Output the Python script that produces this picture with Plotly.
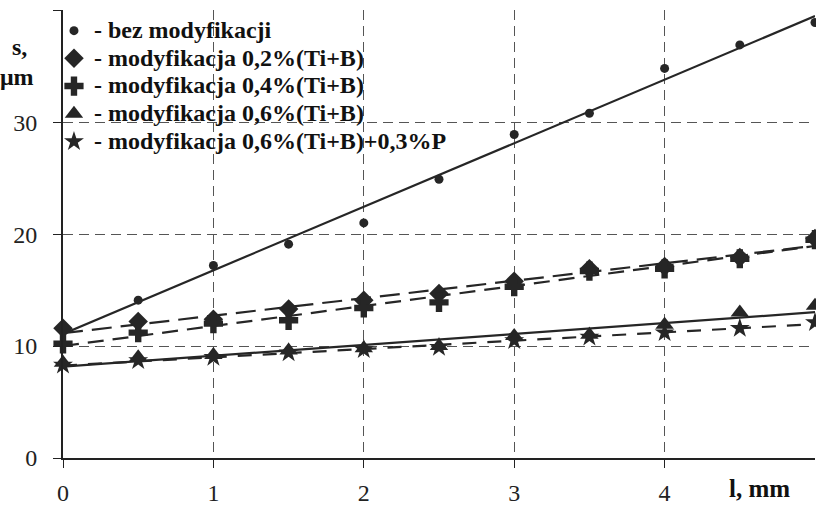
import numpy as np
import plotly.graph_objects as go

l_mm = [0, 0.5, 1, 1.5, 2, 2.5, 3, 3.5, 4, 4.5, 5]
s_bez = [11.5, 14.1, 17.2, 19.1, 21.0, 24.9, 28.9, 30.8, 34.8, 36.9, 38.9]
s_02 = [11.6, 12.2, 12.4, 13.3, 14.1, 14.7, 15.8, 16.9, 17.1, 17.9, 19.6]
s_04 = [10.2, 11.2, 12.0, 12.3, 13.4, 13.9, 15.3, 16.7, 16.9, 17.8, 19.5]
s_06 = [8.5, 9.0, 9.2, 9.6, 9.8, 10.0, 10.9, 11.0, 11.9, 13.0, 13.6]
s_06p = [8.3, 8.7, 9.0, 9.4, 9.7, 9.9, 10.5, 10.8, 11.2, 11.6, 12.1]

names = ["- bez modyfikacji", "- modyfikacja 0,2%(Ti+B)", "- modyfikacja 0,4%(Ti+B)",
         "- modyfikacja 0,6%(Ti+B)", "- modyfikacja 0,6%(Ti+B)+0,3%P"]
x_ticks = [0, 1, 2, 3, 4]
y_ticks = [0, 10, 20, 30, 40]
y_ticktext = ["0", "10", "20", "30", ""]

series = [s_bez, s_02, s_04, s_06, s_06p]
symbols = ["circle", "diamond", "cross", "triangle-up", "star"]
sizes = [9, 15, 16, 16, 15]
dashes = ["solid", "20px,9px", "16px,9px", "solid", "14px,11px"]
ink = "#262626"
serif = "Liberation Serif"

fig = go.Figure()
for ys, name, sym, sz, dash in zip(series, names, symbols, sizes, dashes):
    k, b = np.polyfit(l_mm, ys, 1)
    xf = np.array([l_mm[0], l_mm[-1]])
    fig.add_trace(go.Scatter(x=xf, y=k * xf + b, mode="lines", showlegend=False,
                             line=dict(color=ink, width=2.2, dash=dash), cliponaxis=False,
                             hoverinfo="skip"))
for ys, name, sym, sz, dash in zip(series, names, symbols, sizes, dashes):
    label = '<span style="font-size:24px"><b>' + name + '</b></span>'
    fig.add_trace(go.Scatter(x=l_mm, y=ys, mode="markers", name=label,
                             cliponaxis=False,
                             marker=dict(symbol=sym, size=sz, color=ink,
                                         line=dict(width=0))))

fig.update_layout(
    width=816, height=508,
    margin=dict(l=63, r=1, t=10, b=50),
    paper_bgcolor="white", plot_bgcolor="white",
    showlegend=True,
    legend=dict(x=-0.012, y=0.996, xanchor="left", yanchor="top",
                bgcolor="rgba(0,0,0,0)", borderwidth=0,
                font=dict(family=serif, size=19, color="#111"),
                itemwidth=30, tracegroupgap=0),
    font=dict(family=serif, size=24, color="#222"),
)
fig.update_xaxes(range=[0, 5], tickvals=x_ticks, ticks="outside", ticklen=8,
                 tickcolor="#222", showgrid=True, gridcolor="#555",
                 griddash="10px,6px", gridwidth=1, showline=True, linecolor="#222",
                 linewidth=2, zeroline=False, ticklabelstandoff=4, automargin=False,
                 tickfont=dict(family=serif, size=24))
fig.update_yaxes(range=[0, 40.02], tickvals=y_ticks, ticktext=y_ticktext, ticks="outside",
                 ticklen=8, tickcolor="#222", showgrid=True, gridcolor="#555",
                 griddash="10px,6px", gridwidth=1, showline=True, linecolor="#222",
                 linewidth=2, zeroline=False, ticklabelstandoff=11, automargin=False,
                 tickfont=dict(family=serif, size=24))

fig.add_annotation(text="<b>s,</b>", xref="paper", yref="paper", x=-0.058, y=0.917,
                   xanchor="center", yanchor="middle", showarrow=False,
                   font=dict(family=serif, size=24, color="#111"))
fig.add_annotation(text="<b>μm</b>", xref="paper", yref="paper", x=-0.0615, y=0.85,
                   xanchor="center", yanchor="middle", showarrow=False,
                   font=dict(family=serif, size=24, color="#111"))
fig.add_annotation(text="<b>l, mm</b>", xref="paper", yref="paper", x=0.969, y=-0.069,
                   xanchor="right", yanchor="middle", showarrow=False,
                   font=dict(family=serif, size=25, color="#111"))

fig.write_html("out.html", config={"displayModeBar": False},
               post_script="document.body.style.margin='0';")
